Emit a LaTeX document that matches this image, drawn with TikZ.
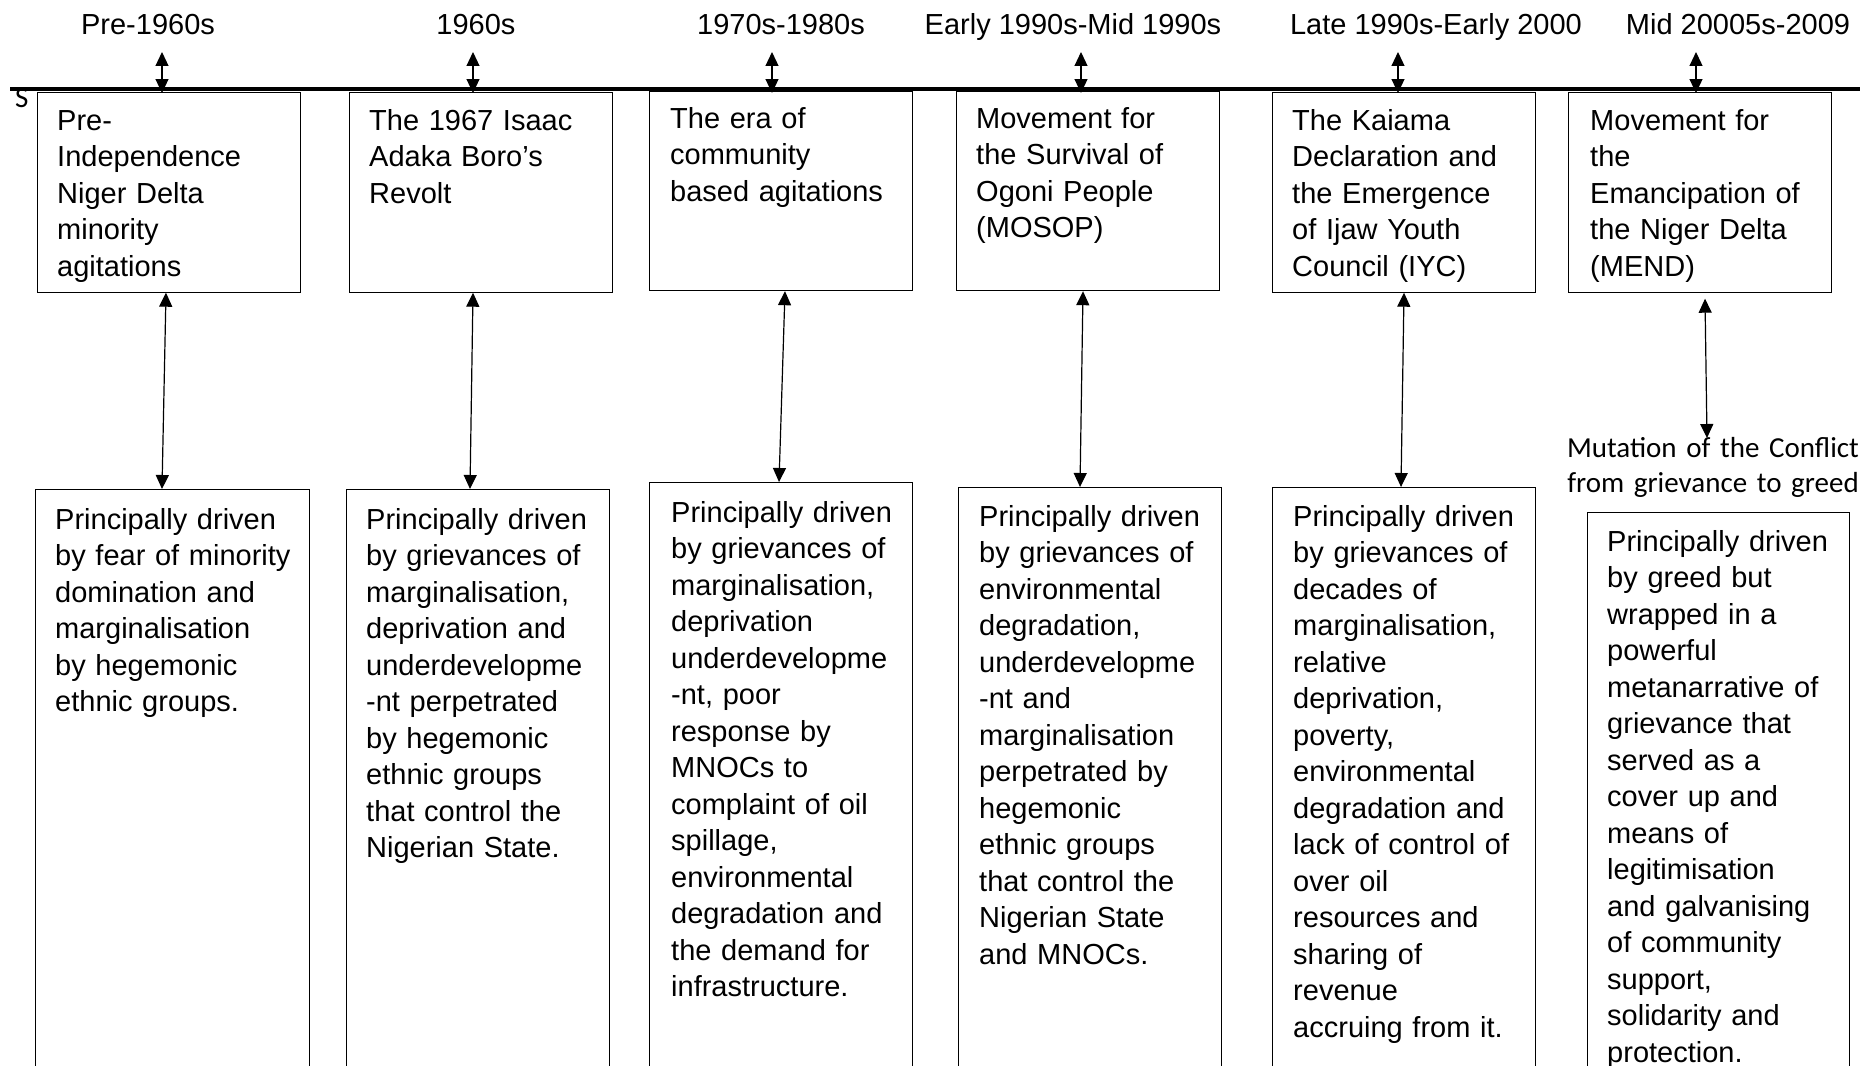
\documentclass[tikz,border=0pt]{standalone}
\usepackage{fontspec}
\setmainfont{Liberation Sans}
\newfontfamily\calib{Carlito}
\usetikzlibrary{arrows.meta}
\begin{document}
\begin{tikzpicture}[x=1pt,y=-1pt,
  box/.style={draw=black, line width=1.2pt, inner sep=0pt, anchor=north west, minimum width=263pt},
  txt/.style={anchor=base west, inner sep=0pt, text width=262pt, align=left, font=\fontsize{29}{36.5}\selectfont},
  lab/.style={anchor=base, inner sep=0pt, font=\fontsize{29}{36.5}\selectfont},
  cal/.style={inner sep=0pt, font=\calib\fontsize{29}{35}\selectfont},
  dbl/.style={line width=1.2pt, {Triangle[length=14pt,width=13pt]}-{Triangle[length=14pt,width=13pt]}},
]
\useasboundingbox (0,0) rectangle (1870,1065);
\clip (0,0) rectangle (1870,1065);

% period labels
\node[lab] (l1) at (148,35) {Pre-1960s};
\node[lab] (l2) at (476,35) {1960s};
\node[lab] (l3) at (781,35) {1970s-1980s};
\node[lab] (l4) at (1073,35) {Early 1990s-Mid 1990s};
\node[lab] (l5) at (1436,35) {Late 1990s-Early 2000};
\node[lab] (l6) at (1738,35) {Mid 20005s-2009};

% stray S
\node[cal, anchor=base west] (s) at (15,107) {S};

% timeline
\coordinate (tl) at (10,89);
\coordinate (tr) at (1860,89);
\draw[line width=4pt] (tl) -- (tr);

% short double arrows on the timeline
\foreach \i/\x in {1/162,2/473,3/772,4/1081,5/1398,6/1696}{
  \coordinate (u\i) at (\x,52);
  \coordinate (d\i) at (\x,93);
  \draw[dbl] (u\i) -- (d\i);
}

% top boxes
\node[box, minimum height=200pt] (t1) at (37,91.5) {};
\node[box, minimum height=200pt] (t2) at (349,91.5) {};
\node[box, minimum height=199pt] (t3) at (649,91) {};
\node[box, minimum height=199pt] (t4) at (956,91) {};
\node[box, minimum height=200pt] (t5) at (1272,91.5) {};
\node[box, minimum height=200pt] (t6) at (1568,91.5) {};

\node[txt] (t1x) at (57,130) {Pre-\\Independence\\Niger Delta\\minority\\agitations};
\node[txt] (t2x) at (369,130) {The 1967 Isaac\\Adaka Boro’s\\Revolt};
\node[txt] (t3x) at (670,128) {The era of\\community\\based agitations};
\node[txt] (t4x) at (976,128) {Movement for\\the Survival of\\Ogoni People\\(MOSOP)};
\node[txt] (t5x) at (1292,130) {The Kaiama\\Declaration and\\the Emergence\\of Ijaw Youth\\Council (IYC)};
\node[txt] (t6x) at (1590,130) {Movement for\\the\\Emancipation of\\the Niger Delta\\(MEND)};

% bottom boxes
\node[box, minimum width=274pt, minimum height=620pt] (b1) at (35,489) {};
\node[box, minimum height=620pt] (b2) at (346,489) {};
\node[box, minimum height=620pt] (b3) at (649,482) {};
\node[box, minimum height=620pt] (b4) at (958,487) {};
\node[box, minimum height=620pt] (b5) at (1272,487) {};
\node[box, minimum width=262pt, minimum height=620pt] (b6) at (1587,512) {};

\node[txt] (b1x) at (55,529) {Principally driven\\by fear of minority\\domination and\\marginalisation\\by hegemonic\\ethnic groups.};
\node[txt] (b2x) at (366,529) {Principally driven\\by grievances of\\marginalisation,\\deprivation and\\underdevelopme\\-nt perpetrated\\by hegemonic\\ethnic groups\\that control the\\Nigerian State.};
\node[txt] (b3x) at (671,522) {Principally driven\\by grievances of\\marginalisation,\\deprivation\\underdevelopme\\-nt, poor\\response by\\MNOCs to\\complaint of oil\\spillage,\\environmental\\degradation and\\the demand for\\infrastructure.};
\node[txt] (b4x) at (979,526) {Principally driven\\by grievances of\\environmental\\degradation,\\underdevelopme\\-nt and\\marginalisation\\perpetrated by\\hegemonic\\ethnic groups\\that control the\\Nigerian State\\and MNOCs.};
\node[txt] (b5x) at (1293,526) {Principally driven\\by grievances of\\decades of\\marginalisation,\\relative\\deprivation,\\poverty,\\environmental\\degradation and\\lack of control of\\over oil\\resources and\\sharing of\\revenue\\accruing from it.};
\node[txt] (b6x) at (1607,551) {Principally driven\\by greed but\\wrapped in a\\powerful\\metanarrative of\\grievance that\\served as a\\cover up and\\means of\\legitimisation\\and galvanising\\of community\\support,\\solidarity and\\protection.};

% mutation label
\node[cal, anchor=base, text width=330pt, align=center] (mut) at (1713,457) {Mutation of the Conflict\\from grievance to greed};
\coordinate (m6) at (1707,438);

% connectors between top and bottom boxes
\draw[dbl] ([xshift=129pt]t1.south west) -- ([xshift=127pt]b1.north west);
\draw[dbl] ([xshift=124pt]t2.south west) -- ([xshift=124pt]b2.north west);
\draw[dbl] ([xshift=136pt]t3.south west) -- ([xshift=130pt]b3.north west);
\draw[dbl] ([xshift=127pt]t4.south west) -- ([xshift=122pt]b4.north west);
\draw[dbl] ([xshift=132pt]t5.south west) -- ([xshift=129pt]b5.north west);
\draw[dbl] ([xshift=137pt,yshift=-6pt]t6.south west) -- (m6);
\end{tikzpicture}
\end{document}
